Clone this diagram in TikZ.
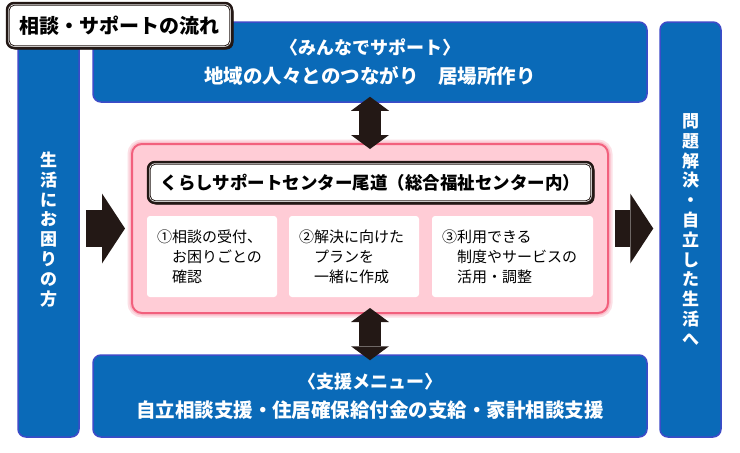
\documentclass[tikz,border=0pt]{standalone}
\usepackage{fontspec}
\setmainfont{Noto Sans CJK JP}
\usetikzlibrary{arrows.meta,shadows}

\definecolor{osblue}{HTML}{0A6AB8}
\definecolor{osrim}{HTML}{3D4BC8}
\definecolor{ospink}{HTML}{FFCCD6}
\definecolor{osrose}{HTML}{F2607D}
\definecolor{osdark}{HTML}{231815}

\begin{document}
\begin{tikzpicture}[x=1pt,y=-1pt,
    bluebox/.style={draw=osrim, line width=1.5pt, fill=osblue, rounded corners=8pt,
      inner sep=0pt, text=white, align=center, font=\fontsize{19.5}{29}\selectfont\bfseries},
    coltext/.style={bluebox, minimum width=61pt, minimum height=415pt,
      font=\fontsize{17}{19.8}\selectfont\bfseries},
    titlebox/.style={draw=osdark, line width=2.5pt, fill=white, rounded corners=7pt, inner sep=0pt,
      drop shadow={shadow xshift=1.5pt, shadow yshift=-1.5pt, fill=osdark, opacity=1}},
    innerrim/.style={draw=osdark, line width=0.8pt, rounded corners=5pt},
    stepcard/.style={fill=white, rounded corners=3pt, minimum height=81pt, inner xsep=10pt,
      align=left, font=\fontsize{15}{20}\selectfont},
    blockarrow/.style={draw=osdark, line width=37pt,
      -{Triangle[length=23pt,width=70pt,line width=0pt]}, shorten <=6pt, shorten >=6pt},
    linkarrow/.style={draw=osdark, line width=22pt,
      {Triangle[length=14pt,width=38pt,line width=0pt]}-{Triangle[length=14pt,width=38pt,line width=0pt]},
      shorten <=-6pt, shorten >=-6pt}]
  \useasboundingbox[fill=white] (0,0) rectangle (740,453);

  % side columns
  \node[coltext] (needy) at (48.5,229.5) {生\\活\\に\\お\\困\\り\\の\\方};
  \node[coltext] (goal) at (690.5,229.5) {問\\題\\解\\決\\・\\自\\立\\し\\た\\生\\活\\へ};

  % menus above and below
  \node[bluebox, minimum width=554pt, minimum height=80pt] (support) at (370,62)
    {{\fontsize{18}{29}\selectfont 〈みんなでサポート〉}\\地域の人々とのつながり　居場所作り};
  \node[bluebox, minimum width=554pt, minimum height=82pt] (menu) at (370,396)
    {{\fontsize{18}{29}\selectfont 〈支援メニュー〉}\\自立相談支援・住居確保給付金の支給・家計相談支援};

  % centre
  \node[draw=osrose, line width=2pt, fill=ospink, rounded corners=10pt,
    preaction={draw=osrose!20, line width=9pt}, preaction={draw=osrose!40, line width=5pt},
    minimum width=476pt, minimum height=169pt] (hub) at (370,228.5) {};
  \node[titlebox, minimum width=445pt, minimum height=41pt,
    font=\fontsize{17.5}{20}\selectfont\bfseries] (office) at (370.5,182.5)
    {くらしサポートセンター尾道（総合福祉センター内）};
  \draw[innerrim] ([shift={(3.5,-3.5)}]office.south west) rectangle ([shift={(-3.5,3.5)}]office.north east);

  \node[stepcard, text width=110pt] (intake) at (212,256.5)
    {①相談の受付、\\\hspace*{1em}お困りごとの\\\hspace*{1em}確認};
  \node[stepcard, text width=110pt] (plan) at (354,256.5)
    {②解決に向けた\\\hspace*{1em}プランを\\\hspace*{1em}一緒に作成};
  \node[stepcard, text width=141pt] (services) at (512.5,256.5)
    {③利用できる\\\hspace*{1em}制度やサービスの\\\hspace*{1em}活用・調整};

  % arrows
  \draw[blockarrow] (needy.east |- hub.west) -- (hub.west);
  \draw[blockarrow] (hub.east) -- (goal.west |- hub.east);
  \draw[linkarrow] (support.south) -- (hub.north);
  \draw[linkarrow] (hub.south) -- (menu.north);

  % heading
  \node[titlebox, minimum width=225pt, minimum height=45pt,
    font=\fontsize{20}{22}\selectfont\bfseries] (heading) at (119.5,25.5) {相談・サポートの流れ};
  \draw[innerrim] ([shift={(3.5,-3.5)}]heading.south west) rectangle ([shift={(-3.5,3.5)}]heading.north east);
\end{tikzpicture}
\end{document}
